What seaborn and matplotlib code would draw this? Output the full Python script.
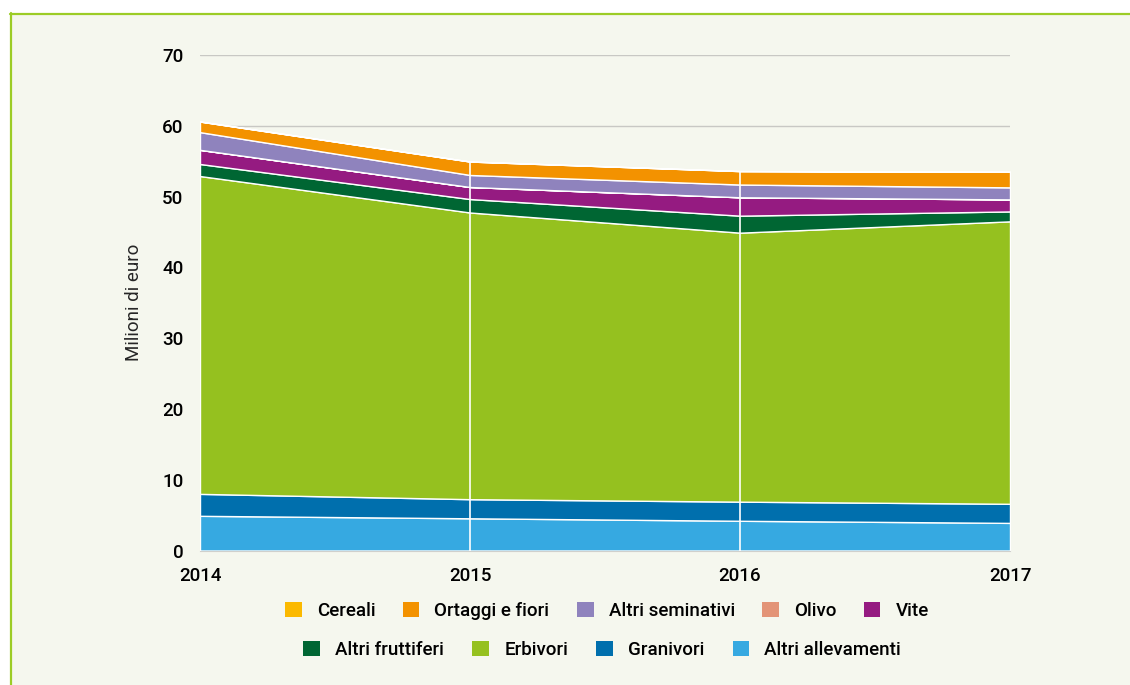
import numpy as np
import pandas as pd
import seaborn as sns
import matplotlib.pyplot as plt
from matplotlib.patches import Rectangle, Patch
from matplotlib.lines import Line2D

# values in millions of euro
years = [2014, 2015, 2016, 2017]
altri_allevamenti = [4.9, 4.55, 4.2, 3.9]
granivori = [3.1, 2.7, 2.7, 2.7]
erbivori = [44.9, 40.5, 38.0, 39.9]
altri_fruttiferi = [1.7, 1.9, 2.4, 1.4]
vite = [2.0, 1.7, 2.6, 1.7]
olivo = [0.0, 0.0, 0.0, 0.0]
altri_seminativi = [2.5, 1.7, 1.8, 1.7]
ortaggi_fiori = [1.5, 1.9, 1.9, 2.2]
cereali = [0.0, 0.0, 0.0, 0.0]

# stacking order, bottom to top
series = ["Altri allevamenti", "Granivori", "Erbivori", "Altri fruttiferi", "Vite",
          "Olivo", "Altri seminativi", "Ortaggi e fiori", "Cereali"]
values = [altri_allevamenti, granivori, erbivori, altri_fruttiferi, vite,
          olivo, altri_seminativi, ortaggi_fiori, cereali]
colors = {
    "Cereali": "#fbb900",
    "Ortaggi e fiori": "#f39200",
    "Altri seminativi": "#8f83bd",
    "Olivo": "#e39477",
    "Vite": "#951b81",
    "Altri fruttiferi": "#006633",
    "Erbivori": "#95c11f",
    "Granivori": "#006fad",
    "Altri allevamenti": "#36a9e1",
}
legend_row1 = ["Cereali", "Ortaggi e fiori", "Altri seminativi", "Olivo", "Vite"]
legend_row2 = ["Altri fruttiferi", "Erbivori", "Granivori", "Altri allevamenti"]

df = pd.DataFrame(dict(zip(series, values)), index=years)

bg = "#f5f7ee"
fs = 13.5
sns.set_style("white")
plt.rcParams["font.family"] = ["Roboto", "DejaVu Sans"]
plt.rcParams["font.weight"] = "medium"
plt.rcParams["font.size"] = fs
plt.rcParams["text.color"] = "#000000"

fig = plt.figure(figsize=(11.3, 6.85), dpi=100)
fig.patch.set_facecolor("white")
# cream panel with green border on top and left
fig.patches.append(Rectangle((10 / 1130, 0), 1, 1 - 13 / 685, transform=fig.transFigure,
                             facecolor=bg, edgecolor="none", zorder=-10))
fig.add_artist(Line2D([10.5 / 1130, 10.5 / 1130], [0, 1 - 13 / 685], color="#9ccc26", lw=1.6,
                      transform=fig.transFigure, zorder=-5))
fig.add_artist(Line2D([10 / 1130, 1], [1 - 13.5 / 685, 1 - 13.5 / 685], color="#9ccc26", lw=1.6,
                      transform=fig.transFigure, zorder=-5))

ax = fig.add_axes([200 / 1130, 1 - 550.5 / 685, 810 / 1130, 495.5 / 685])
ax.set_facecolor("none")

ax.stackplot(df.index, [df[s] for s in series], colors=[colors[s] for s in series],
             edgecolor="white", linewidth=1.0, zorder=2)
# white separators at inner years, only as high as the stack
totals = df.sum(axis=1)
ax.vlines(years[1:-1], 0, totals.loc[years[1:-1]], color="white", lw=1.2, zorder=3)

ax.set_xlim(2014, 2017)
ax.set_ylim(0, 70)
ax.set_yticks(range(0, 71, 10))
ax.set_xticks(years)
ax.grid(axis="y", color="#c8c8c4", lw=1)
ax.grid(axis="x", visible=False)
ax.set_axisbelow(True)
sns.despine(ax=ax, left=True, top=True, right=True)
ax.spines["bottom"].set_color("#d0d0cc")
ax.tick_params(axis="y", length=0, pad=12, labelsize=fs, labelcolor="#000000")
ax.tick_params(axis="x", length=5, color="#c8c8c4", pad=7, labelsize=fs, labelcolor="#000000")
ax.set_ylabel("Milioni di euro", fontsize=fs, labelpad=14)

h1 = [Patch(facecolor=colors[s], edgecolor="none") for s in legend_row1]
h2 = [Patch(facecolor=colors[s], edgecolor="none") for s in legend_row2]
fig.legend(h1, legend_row1, loc="center", bbox_to_anchor=(0.537, 1 - 611 / 685), ncol=5,
           frameon=False, fontsize=fs, handlelength=0.9, handleheight=0.9,
           columnspacing=1.45, handletextpad=0.8)
fig.legend(h2, legend_row2, loc="center", bbox_to_anchor=(0.533, 1 - 650 / 685), ncol=4,
           frameon=False, fontsize=fs, handlelength=0.9, handleheight=0.9,
           columnspacing=1.5, handletextpad=0.8)

fig.savefig("out.png", dpi=100, facecolor=fig.get_facecolor())
